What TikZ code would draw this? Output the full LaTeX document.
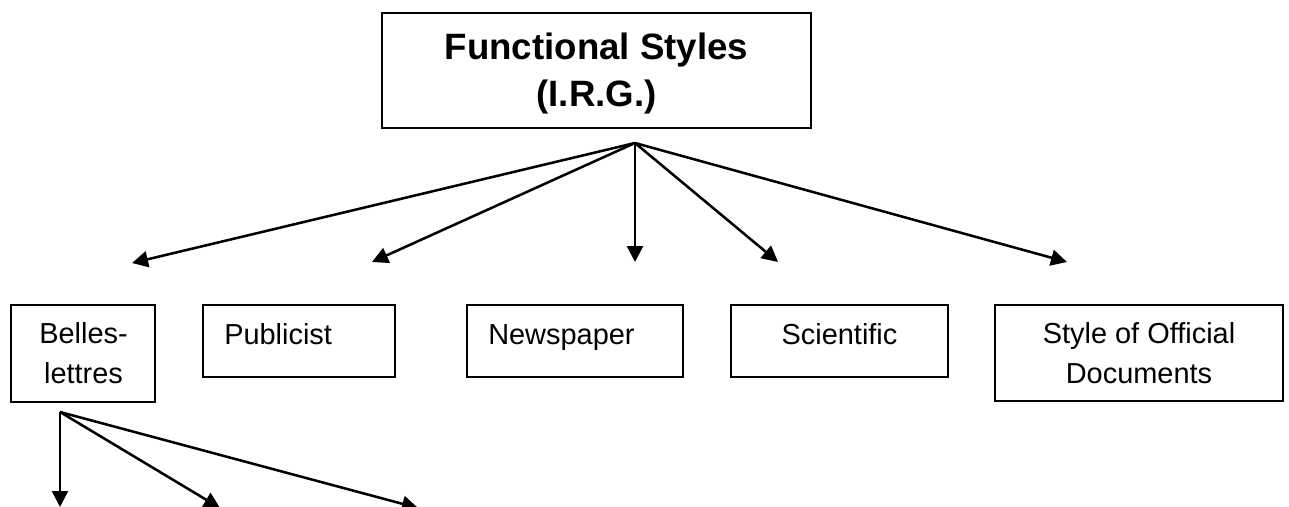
\documentclass[tikz,border=0pt]{standalone}
\usepackage{fontspec}
\setmainfont{Liberation Sans}
\usetikzlibrary{arrows.meta,fit}
\begin{document}
\begin{tikzpicture}[x=0.75pt,y=-0.75pt,
  box/.style={draw, line width=1.6pt, inner sep=0pt},
  lbl/.style={font=\fontsize{21.7pt}{30pt}\selectfont, inner sep=0pt},
  title/.style={font=\bfseries\fontsize{27.5pt}{35.25pt}\selectfont, inner sep=0pt},
  link/.style={line width=1.9pt, -{Triangle[length=12pt,width=12pt]}}]
\useasboundingbox (0,0) rectangle (1289,507);

% boxes
\node[box, fit={(382,13) (811,128)}] (top) {};
\node[box, fit={(11,305) (155,402)}] (belles) {};
\node[box, fit={(203,305) (395,377)}] (publicist) {};
\node[box, fit={(467,305) (683,377)}] (newspaper) {};
\node[box, fit={(731,305) (948,377)}] (scientific) {};
\node[box, fit={(995,305) (1283,401)}] (official) {};

% texts (base anchor sits on the last line)
\node[title, anchor=base, align=center] (top-text) at (596.5,106) {Functional Styles\\(I.R.G.)};
\node[lbl, anchor=base, align=center] (belles-text) at (83.5,383) {Belles-\\lettres};
\node[lbl, anchor=base west] (publicist-text) at (224,344) {Publicist};
\node[lbl, anchor=base west] (newspaper-text) at (488,344) {Newspaper};
\node[lbl, anchor=base] (scientific-text) at (839.5,344) {Scientific};
\node[lbl, anchor=base, align=center] (official-text) at (1139,383) {Style of Official\\Documents};

% branching points and arrow ends
\coordinate (hub) at (635,143);
\coordinate (t1) at (132,263);
\coordinate (t2) at (372,262);
\coordinate (t3) at (635,262);
\coordinate (t4) at (778,262);
\coordinate (t5) at (1067,262);
\coordinate (subhub) at (60,412);
\coordinate (s1) at (60,507);
\coordinate (s2) at (220,508);
\coordinate (s3) at (418,508);

% connectors
\foreach \t in {t1,t2,t3,t4,t5} \draw[link] (hub) -- (\t);
\foreach \s in {s1,s2,s3} \draw[link] (subhub) -- (\s);
\end{tikzpicture}
\end{document}
